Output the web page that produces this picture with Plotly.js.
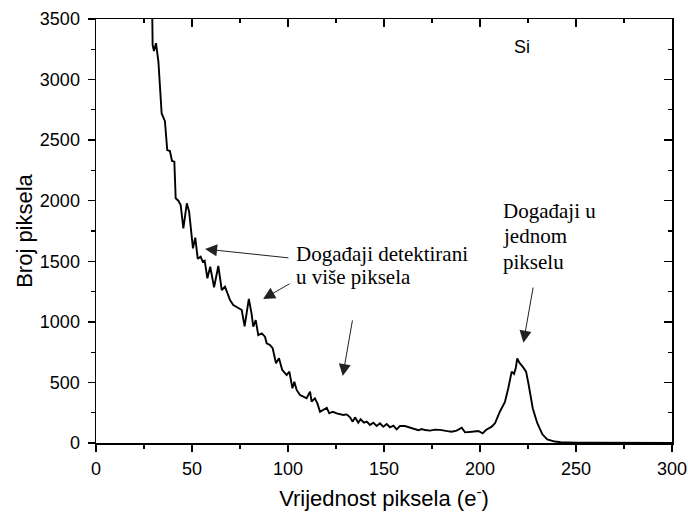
<!DOCTYPE html>
<html>
<head>
<meta charset="utf-8">
<script src="https://cdn.plot.ly/plotly-3.0.1.min.js"></script>
<style>html,body{margin:0;padding:0;background:#fff;}#chart{width:688px;height:514px;}</style>
</head>
<body>
<div id="chart"></div>
<script>
// Pixel value (e-) and pixel count
const pixelValue = [29.2, 29.5, 30.2, 31.25, 32.5, 34.2, 35.9, 37.1, 38.5, 39.6, 40.8, 41.5, 42.9, 44.1, 45.5, 47.3, 48.5, 49.5, 50.5, 51.7, 53.0, 54.5, 55.6, 56.6, 58.0, 59.5, 61.5, 63.7, 65.5, 67.2, 69.8, 71.5, 74.1, 75.9, 77.4, 79.6, 81.0, 81.9, 83.2, 84.5, 86.3, 88.0, 88.9, 90.6, 92.0, 93.75, 95.3, 97.0, 99.3, 100.7, 102.3, 103.3, 104.5, 106.25, 108, 109.7, 111.5, 112.3, 114, 115.3, 116.7, 118.4, 120.2, 121.5, 123.3, 125.4, 127.1, 128.8, 130.6, 132.3, 133.7, 134.9, 136.6, 137.8, 139.6, 141, 142.7, 144.4, 146.2, 147.9, 149.6, 151.4, 153.1, 154.9, 156.6, 158.3, 160.9, 163.5, 165.3, 167.9, 169.6, 171.4, 174, 176.6, 179.2, 180.9, 183, 185.3, 187.8, 190.5, 192.2, 195.7, 199.1, 201.4, 203.1, 206.1, 207.8, 210.4, 213, 214.7, 216.5, 217.7, 218.6, 219.4, 220.5, 222.2, 224, 225.2, 226.2, 227.5, 229.8, 232.5, 235, 239, 242, 245, 250, 260, 270, 280, 290, 300];
const pixelCount = [3650, 3285, 3236, 3300, 3148, 2720, 2657, 2418, 2410, 2328, 2322, 2020, 2000, 1965, 1772, 1979, 1910, 1760, 1607, 1695, 1520, 1538, 1497, 1505, 1360, 1455, 1285, 1461, 1263, 1290, 1180, 1139, 1112, 1098, 963, 1190, 1070, 960, 1015, 891, 905, 878, 823, 809, 782, 658, 699, 603, 561, 589, 451, 506, 438, 396, 382, 369, 424, 341, 369, 327, 258, 272, 291, 245, 258, 245, 236, 231, 236, 212, 176, 212, 168, 196, 168, 176, 149, 168, 140, 163, 135, 157, 130, 143, 113, 140, 140, 125, 121, 105, 115, 107, 102, 110, 108, 102, 98, 93, 102, 126, 88, 93, 99, 80, 107, 135, 163, 260, 340, 450, 589, 570, 616, 699, 663, 630, 589, 493, 390, 285, 165, 72, 30, 12, 6, 4, 3, 2, 2, 1, 1, 1];

const xTitle = 'Vrijednost piksela (e<sup>-</sup>)';
const yTitle = 'Broj piksela';
const sampleLabel = 'Si';
const multiLabel1 = 'Događaji detektirani';
const multiLabel2 = 'u više piksela';
const singleLabel = ['Događaji u', 'jednom', 'pikselu'];

const tickFont = {family: 'Liberation Sans, Arial, sans-serif', size: 18, color: '#000'};
const titleFont = {family: 'Liberation Sans, Arial, sans-serif', size: 22, color: '#000'};
const serif = {family: 'Liberation Serif, Times New Roman, serif', size: 21, color: '#000'};

const traces = [
  {x: pixelValue, y: pixelCount, mode: 'lines', type: 'scatter',
   line: {color: '#000', width: 1.9}, showlegend: false, hoverinfo: 'skip', cliponaxis: true},
  {x: [], y: [], xaxis: 'x2', yaxis: 'y2', mode: 'lines', showlegend: false}
];

function arrow(tx, ty, ax, ay) {
  return {x: tx, y: ty, ax: ax, ay: ay, xref: 'x', yref: 'y', axref: 'x', ayref: 'y',
    text: '', showarrow: true, arrowhead: 2, arrowsize: 2.4, arrowwidth: 1, arrowcolor: '#222'};
}
function label(x, y, t, font) {
  return {x: x, y: y, xref: 'x', yref: 'y', text: t, showarrow: false,
    xanchor: 'left', yanchor: 'middle', font: font, borderpad: 0};
}

const annotations = [
  arrow(56.8, 1601, 101, 1527),
  arrow(87, 1189, 101.6, 1321),
  arrow(128.5, 553, 133.7, 1024),
  arrow(222.6, 828, 227.8, 1296),
  label(103.6, 1563, multiLabel1, serif),
  label(103.6, 1370, multiLabel2, serif),
  label(211.3, 1913, singleLabel[0], serif),
  label(211.3, 1706, singleLabel[1], serif),
  label(211.3, 1492, singleLabel[2], serif),
  {x: 222, y: 3269, xref: 'x', yref: 'y', text: sampleLabel, showarrow: false,
   xanchor: 'center', yanchor: 'middle', font: {family: 'Liberation Sans, Arial, sans-serif', size: 18, color: '#000'}}
];

const layout = {
  width: 688, height: 514,
  margin: {l: 96, r: 16, t: 19, b: 71},
  paper_bgcolor: '#fff', plot_bgcolor: '#fff',
  showlegend: false,
  xaxis: {range: [0, 300], dtick: 50, tick0: 0, showgrid: false, zeroline: false,
    showline: true, linecolor: '#000', linewidth: 1.5,
    ticks: 'outside', ticklen: 7, tickwidth: 1.5, tickcolor: '#000',
    minor: {dtick: 25, ticks: 'outside', ticklen: 4, tickwidth: 1.2, tickcolor: '#000'},
    tickfont: tickFont, ticklabelstandoff: 2,
    title: {text: xTitle, font: titleFont, standoff: 12}},
  yaxis: {range: [0, 3500], dtick: 500, tick0: 0, showgrid: false, zeroline: false,
    showline: true, linecolor: '#000', linewidth: 1.5,
    ticks: 'outside', ticklen: 7, tickwidth: 1.5, tickcolor: '#000',
    minor: {dtick: 250, ticks: 'outside', ticklen: 4, tickwidth: 1.2, tickcolor: '#000'},
    tickfont: tickFont, ticklabelstandoff: 4,
    title: {text: yTitle, font: titleFont, standoff: 1}},
  xaxis2: {overlaying: 'x', side: 'top', matches: 'x', range: [0, 300], dtick: 50, tick0: 0,
    showgrid: false, zeroline: false, showline: true, linecolor: '#000', linewidth: 1.5,
    ticks: 'inside', ticklen: 8, tickwidth: 1.5, tickcolor: '#000', showticklabels: false,
    minor: {dtick: 25, ticks: 'inside', ticklen: 4, tickwidth: 1.2, tickcolor: '#000'}},
  yaxis2: {overlaying: 'y', side: 'right', matches: 'y', range: [0, 3500], dtick: 500, tick0: 0,
    showgrid: false, zeroline: false, showline: true, linecolor: '#000', linewidth: 1.5,
    ticks: 'inside', ticklen: 8, tickwidth: 1.5, tickcolor: '#000', showticklabels: false,
    minor: {dtick: 250, ticks: 'inside', ticklen: 4, tickwidth: 1.2, tickcolor: '#000'}},
  annotations: annotations
};

Plotly.newPlot('chart', traces, layout, {staticPlot: true, displayModeBar: false});
</script>
</body>
</html>
